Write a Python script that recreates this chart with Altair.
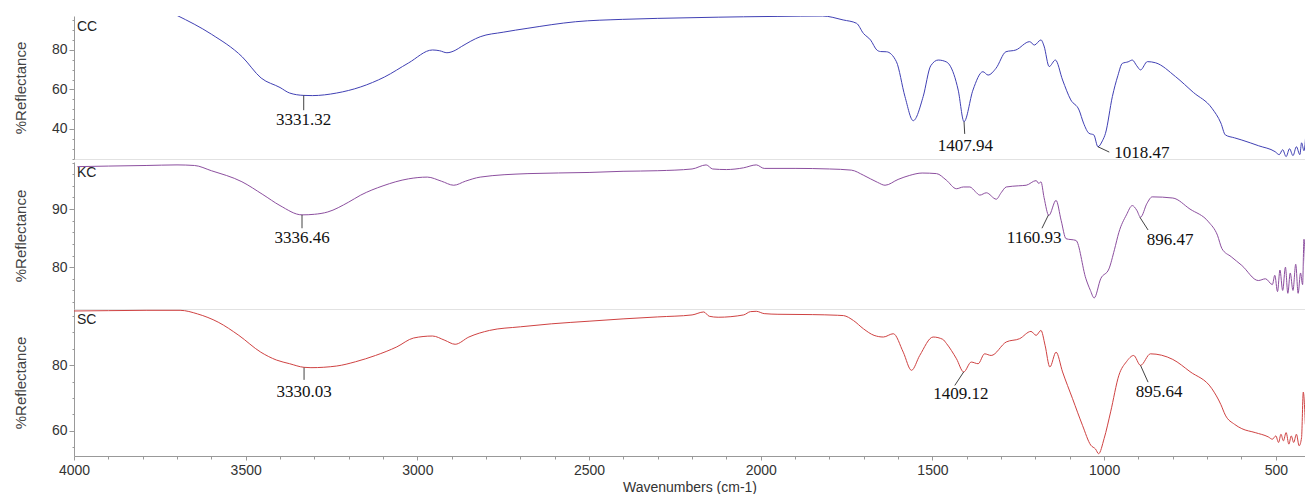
import altair as alt
import pandas as pd

# ---------------- data ----------------
cc_w = [3700, 3600, 3510, 3455, 3400, 3372, 3331, 3306, 3235, 3165, 3096, 3026, 2956, 2935, 2914,
        2890, 2872, 2817, 2750, 2678, 2539, 2402, 2300, 2124, 2050, 1950, 1820, 1760, 1721, 1701,
        1680, 1662, 1651, 1634, 1605, 1580, 1556, 1527, 1505, 1483, 1460, 1450, 1425, 1408, 1382,
        1353, 1338, 1315, 1286, 1257, 1217, 1203, 1184, 1175, 1160, 1142, 1121, 1097, 1073, 1060,
        1044, 1030, 1018, 1005, 996, 976, 960, 947, 930, 918, 905, 894, 874, 850, 792, 740, 686,
        660, 647, 620, 599, 550, 502, 490, 480, 470, 460, 450, 440, 430, 425, 418, 412]
cc_v = [97.5, 88.0, 76.5, 65.8, 61.0, 58.2, 57.0, 56.9, 58.2, 61.3, 66.3, 73.4, 80.0, 79.6, 78.6,
        79.8, 81.7, 86.7, 89.0, 91.0, 94.3, 95.5, 96.0, 96.6, 96.8, 97.0, 97.2, 95.2, 93.5, 88.4,
        85.0, 80.0, 79.2, 79.1, 74.1, 56.4, 44.2, 56.4, 72.0, 74.9, 74.0, 72.4, 59.7, 43.7, 59.7,
        69.0, 67.3, 70.7, 79.1, 80.0, 84.2, 82.5, 85.1, 82.0, 71.6, 74.9, 64.8, 54.7, 49.6, 43.0,
        37.8, 37.0, 31.0, 34.0, 37.8, 56.4, 67.0, 73.2, 74.0, 74.9, 72.0, 69.9, 74.1, 73.5, 66.5,
        58.5, 50.5, 43.0, 37.0, 35.5, 34.4, 31.5, 28.5, 27.0, 29.5, 26.0, 30.0, 26.5, 31.0, 27.0,
        33.0, 29.0, 39.0]

kc_w = [3990, 3900, 3790, 3700, 3649, 3600, 3511, 3450, 3400, 3336, 3300, 3261, 3200, 3165, 3100,
        3026, 2971, 2930, 2894, 2860, 2817, 2678, 2500, 2401, 2300, 2200, 2159, 2140, 2100, 2050,
        2013, 1990, 1900, 1800, 1736, 1700, 1660, 1638, 1600, 1566, 1530, 1488, 1460, 1430, 1410,
        1391, 1375, 1362, 1343, 1314, 1300, 1285, 1250, 1227, 1198, 1190, 1184, 1175, 1161, 1140,
        1125, 1111, 1082, 1053, 1040, 1029, 1010, 986, 970, 957, 935, 918, 905, 894, 875, 860, 800,
        750, 696, 670, 657, 630, 599, 551, 530, 510, 503, 495, 488, 480, 472, 465, 458, 450, 442,
        435, 428, 422, 418, 412]
kc_v = [97.3, 97.4, 97.5, 97.6, 97.5, 96.6, 94.7, 92.5, 90.6, 89.0, 89.1, 89.5, 91.2, 92.4, 94.0,
        95.2, 95.5, 94.8, 94.1, 94.8, 95.5, 96.1, 96.3, 96.5, 96.6, 96.9, 97.6, 96.9, 96.8, 97.1,
        97.6, 97.0, 97.0, 96.9, 96.7, 95.8, 94.6, 94.1, 95.1, 95.8, 96.2, 96.1, 95.0, 93.5, 93.8,
        93.8, 93.0, 92.4, 92.8, 91.7, 92.8, 93.8, 94.0, 94.1, 94.9, 94.4, 94.7, 92.0, 88.9, 91.5,
        88.0, 84.9, 84.6, 78.0, 76.0, 74.7, 78.0, 79.7, 83.0, 86.0, 89.0, 90.6, 89.8, 88.6, 91.0,
        92.1, 91.9, 90.0, 87.8, 85.5, 83.2, 81.8, 80.3, 77.7, 78.0, 77.0, 78.6, 75.8, 79.5, 76.0,
        80.0, 75.5, 79.0, 76.0, 80.5, 75.5, 79.0, 77.0, 84.8, 78.0]

sc_w = [4000, 3900, 3790, 3691, 3640, 3580, 3520, 3456, 3410, 3372, 3330, 3310, 3235, 3180, 3122,
        3060, 3011, 2956, 2920, 2890, 2850, 2790, 2700, 2610, 2500, 2401, 2300, 2200, 2166, 2150,
        2124, 2050, 2030, 2013, 1990, 1950, 1850, 1777, 1759, 1730, 1701, 1670, 1643, 1614, 1585,
        1561, 1537, 1498, 1470, 1459, 1430, 1409, 1387, 1367, 1348, 1329, 1285, 1246, 1213, 1198,
        1184, 1172, 1158, 1140, 1121, 1092, 1063, 1039, 1025, 1016, 1000, 981, 957, 935, 914, 894,
        865, 800, 750, 686, 660, 647, 620, 599, 560, 522, 510, 500, 492, 485, 478, 470, 462, 455,
        448, 440, 432, 425, 420, 414]
sc_v = [96.4, 96.5, 96.6, 96.6, 95.5, 93.0, 89.0, 83.9, 81.5, 80.4, 79.3, 79.2, 79.7, 81.0, 82.9,
        85.5, 88.2, 88.8, 87.5, 86.3, 88.5, 90.5, 91.6, 92.5, 93.3, 94.0, 94.6, 95.2, 96.1, 94.8,
        94.5, 95.2, 96.2, 96.3, 95.6, 95.4, 95.3, 95.1, 95.0, 93.5, 91.0, 89.0, 88.5, 89.5, 83.9,
        78.4, 82.9, 88.5, 87.8, 86.5, 81.9, 77.9, 80.9, 80.4, 83.4, 82.9, 87.0, 88.0, 90.2, 89.0,
        90.5, 86.0, 79.4, 83.9, 77.9, 69.8, 61.7, 55.7, 54.5, 53.1, 57.7, 65.8, 76.9, 81.0, 82.9,
        79.9, 83.4, 81.7, 78.0, 72.8, 68.0, 64.8, 62.0, 60.7, 59.5, 58.2, 57.5, 58.5, 56.5, 59.0,
        57.0, 59.5, 56.0, 58.5, 56.5, 59.0, 55.5, 58.0, 71.8, 62.0]

# peak annotations: label, peak point, leader end, label centre
cc_ann = {"label": ["3331.32", "1407.94", "1018.47"],
          "w": [3331, 1408, 1018], "v": [57.0, 43.7, 31.0],
          "w2": [3331, 1406, 985], "v2": [49.5, 37.5, 28.3],
          "tw": [3331, 1404, 890], "tv": [44.3, 31.6, 27.6]}
kc_ann = {"label": ["3336.46", "1160.93", "896.47"],
          "w": [3336, 1162, 896], "v": [89.0, 89.0, 88.6],
          "w2": [3336, 1181, 872], "v2": [86.7, 86.7, 86.4],
          "tw": [3336, 1204, 808], "tv": [85.0, 85.0, 84.7]}
sc_ann = {"label": ["3330.03", "1409.12", "895.64"],
          "w": [3330, 1409, 894], "v": [79.2, 77.9, 79.9],
          "w2": [3330, 1435, 872], "v2": [75.5, 73.8, 74.8],
          "tw": [3330, 1417, 840], "tv": [71.8, 71.2, 71.8]}

x_ticks = list(range(500, 4001, 100))
X_DOMAIN = [4000, 415]
SANS = "Liberation Sans"
SERIF = "Liberation Serif"


def panel(name, ws, vs, color, ydom, minor, major, ann, height, bottom):
    line_df = pd.DataFrame({"w": ws, "v": vs})
    ann_df = pd.DataFrame(ann)
    txt_df = pd.DataFrame({"w": ann["tw"], "v": ann["tv"], "label": ann["label"]})
    lab_df = pd.DataFrame({"name": [name]})

    yvals = [v for v in range(0, 101, minor) if ydom[0] <= v <= ydom[1]]
    yaxis = alt.Axis(
        title="%Reflectance", values=yvals, format="d",
        labelExpr=f"datum.value % {major} === 0 ? datum.label : ''",
        tickSize={"condition": {"test": f"datum.value % {major} === 0", "value": 5}, "value": 2},
        labelPadding=2, labelFont=SANS, labelFontSize=14, labelColor="#333",
        titleFont=SANS, titleFontSize=15, titleFontWeight="normal", titleColor="#444",
        titlePadding=23, domainColor="#999", tickColor="#999", grid=False)
    if bottom:
        xaxis = alt.Axis(
            title="Wavenumbers (cm-1)", values=x_ticks, format="d",
            labelExpr="datum.value % 500 === 0 ? datum.label : ''",
            tickSize={"condition": {"test": "datum.value % 500 === 0", "value": 4}, "value": 3},
            labelPadding=3, labelFont=SANS, labelFontSize=14, labelColor="#333",
            labelFlush=False, titleFont=SANS, titleFontSize=14, titleFontWeight="normal",
            titleColor="#333", titlePadding=3, domainColor="#999", tickColor="#999", grid=False)
    else:
        xaxis = alt.Axis(title=None, labels=False, ticks=False, domainColor="#e2e2e2", grid=False)

    xs = alt.Scale(domain=X_DOMAIN, nice=False, zero=False)
    ys = alt.Scale(domain=ydom, nice=False, zero=False)
    X = alt.X("w:Q", scale=xs, axis=xaxis)
    Y = alt.Y("v:Q", scale=ys, axis=yaxis)

    line = alt.Chart(line_df).mark_line(color=color, strokeWidth=1, clip=True,
                                        interpolate="monotone").encode(x=X, y=Y)
    rules = alt.Chart(ann_df).mark_rule(color="#111", strokeWidth=0.8).encode(
        x=X, y=Y, x2="w2:Q", y2="v2:Q")
    texts = alt.Chart(txt_df).mark_text(font=SERIF, fontSize=17, color="#111",
                                        baseline="middle", align="center").encode(
        x=X, y=Y, text="label:N")
    tag = alt.Chart(lab_df).mark_text(font=SANS, fontSize=14, color="#222",
                                      align="left", baseline="middle").encode(
        x=alt.value(3), y=alt.value(11), text="name:N")
    return alt.layer(line, rules, texts, tag).properties(width=1231, height=height)


cc = panel("CC", cc_w, cc_v, "#4040b4", [24.8, 97.2], 5, 20, cc_ann, 143, False)
kc = panel("KC", kc_w, kc_v, "#8c4f9f", [72.8, 98.1], 2, 10, kc_ann, 147, False)
sc = panel("SC", sc_w, sc_v, "#cf4242", [52.4, 97.0], 5, 20, sc_ann, 147, True)

chart = alt.vconcat(cc, kc, sc, spacing=0).properties(
    padding={"top": 8, "left": 5, "right": 0, "bottom": 0},
    background="white",
).configure_view(stroke=None)

chart.save("out.html", embed_options={"renderer": "svg", "actions": False})
